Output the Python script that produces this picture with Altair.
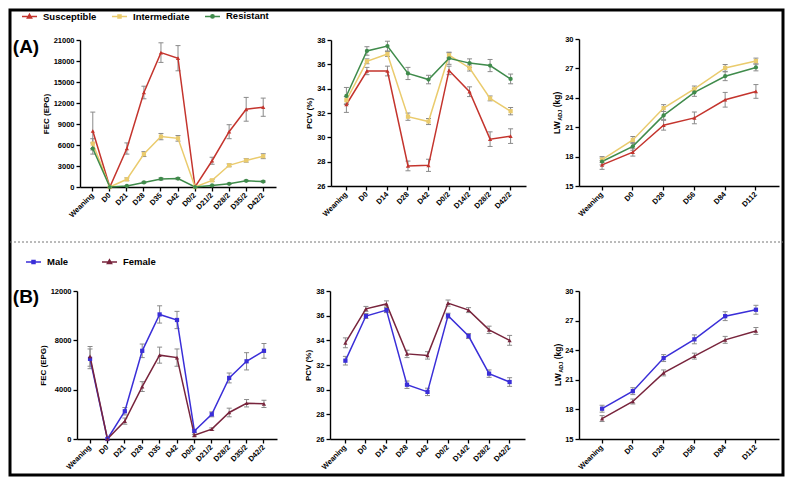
import altair as alt
import pandas as pd

# ---------------- data ----------------
FEC_CATS = ["Weaning", "D0", "D21", "D28", "D35", "D42", "D0/2", "D21/2", "D28/2", "D35/2", "D42/2"]
PCV_CATS = ["Weaning", "D0", "D14", "D28", "D42", "D0/2", "D14/2", "D28/2", "D42/2"]
LW_CATS = ["Weaning", "D0", "D28", "D56", "D84", "D112"]

GROUPS_A = ["Susceptible", "Intermediate", "Resistant"]
GROUPS_B = ["Male", "Female"]

FEC_S = [8000, 0, 5500, 13500, 19200, 18400, 0, 3750, 7900, 11100, 11400]
FEC_S_ERR = [2700, 0, 800, 900, 1400, 1800, 0, 500, 1000, 1700, 1300]
FEC_I = [6200, 0, 1100, 4700, 7200, 6950, 0, 950, 3100, 3800, 4400]
FEC_I_ERR = [700, 0, 200, 350, 450, 400, 0, 150, 200, 250, 350]
FEC_R = [5500, 0, 150, 650, 1150, 1200, 0, 220, 450, 880, 780]
FEC_R_ERR = [800, 0, 50, 100, 150, 150, 0, 50, 80, 100, 100]

PCV_S = [32.7, 35.45, 35.45, 27.65, 27.7, 35.5, 33.75, 29.85, 30.1]
PCV_S_ERR = [0.65, 0.3, 0.4, 0.4, 0.5, 0.35, 0.4, 0.6, 0.6]
PCV_I = [33.05, 36.25, 36.85, 31.7, 31.3, 36.75, 35.7, 33.2, 32.15]
PCV_I_ERR = [0.3, 0.2, 0.2, 0.3, 0.25, 0.2, 0.25, 0.2, 0.3]
PCV_R = [33.4, 37.1, 37.5, 35.25, 34.75, 36.5, 36.1, 35.9, 34.8]
PCV_R_ERR = [0.7, 0.35, 0.4, 0.5, 0.35, 0.5, 0.35, 0.5, 0.4]

LW_S = [17.15, 18.45, 21.2, 21.95, 23.8, 24.65]
LW_S_ERR = [0.45, 0.4, 0.5, 0.6, 0.75, 0.7]
LW_I = [17.7, 19.7, 22.95, 24.9, 27.05, 27.75]
LW_I_ERR = [0.3, 0.35, 0.35, 0.3, 0.35, 0.3]
LW_R = [17.5, 19.05, 22.2, 24.55, 26.2, 27.1]
LW_R_ERR = [0.35, 0.4, 0.4, 0.4, 0.45, 0.35]

FEC_M = [6500, 0, 2250, 7150, 10100, 9650, 650, 2000, 4950, 6300, 7150]
FEC_M_ERR = [800, 0, 300, 550, 700, 700, 100, 200, 400, 700, 600]
FEC_F = [6700, 0, 1450, 4250, 6800, 6600, 300, 800, 2150, 2900, 2850]
FEC_F_ERR = [800, 0, 250, 400, 650, 700, 80, 100, 350, 300, 300]

PCV_M = [32.35, 35.97, 36.45, 30.4, 29.82, 36.0, 34.35, 31.3, 30.62]
PCV_M_ERR = [0.35, 0.2, 0.2, 0.3, 0.3, 0.2, 0.2, 0.3, 0.35]
PCV_F = [33.8, 36.55, 36.95, 32.9, 32.78, 37.02, 36.45, 34.85, 34.0]
PCV_F_ERR = [0.4, 0.2, 0.25, 0.3, 0.3, 0.25, 0.2, 0.3, 0.4]

LW_M = [18.07, 19.85, 23.2, 25.1, 27.45, 28.1]
LW_M_ERR = [0.35, 0.35, 0.35, 0.45, 0.45, 0.45]
LW_F = [17.07, 18.8, 21.7, 23.4, 25.05, 25.95]
LW_F_ERR = [0.3, 0.25, 0.3, 0.3, 0.35, 0.35]

FEC_A_TICKS = [0, 3000, 6000, 9000, 12000, 15000, 18000, 21000]
FEC_B_TICKS = [0, 4000, 8000, 12000]
PCV_TICKS = [26, 28, 30, 32, 34, 36, 38]
LW_TICKS = [15, 18, 21, 24, 27, 30]

# ---------------- style ----------------
FONT = "Liberation Sans"
C_S, C_I, C_R = "#C4342D", "#EACB6D", "#3F8B4B"
C_M, C_F = "#3A2ED8", "#78243C"
GRAY = "#8a8a8a"

W, H = 773, 465          # view size; chart origin sits at screen (10, 10)
OFF = 10


def cx(s):
    return s - OFF


def cy(s):
    return s - OFF


def panel(cats, series, ydom, yticks, xr, yr, ytitle):
    xs = alt.Scale(domain=cats, range=[cx(xr[0]), cx(xr[1])], padding=0.5)
    ys = alt.Scale(domain=ydom, range=[cy(yr[0]), cy(yr[1])], zero=False, nice=False)
    xaxis = alt.Axis(orient="bottom", offset=cy(yr[0]) - H, labelAngle=-45,
                     labelAlign="right", labelBaseline="middle", labelOverlap=False,
                     title=None, labelPadding=3)
    yaxis = alt.Axis(orient="left", offset=-cx(xr[0]), values=yticks, format="d",
                     title=ytitle if ytitle else None, titlePadding=3)
    lines, bars, pts = [], [], []
    for name, m, e, col, shp in series:
        df = pd.DataFrame({"cat": cats, "mean": m, "err": e, "i": list(range(len(cats)))})
        df["lo"] = df["mean"] - df["err"]
        df["hi"] = df["mean"] + df["err"]
        base = alt.Chart(df).encode(x=alt.X("cat:N", scale=xs, axis=xaxis, sort=cats))
        lines.append(base.mark_line(color=col, strokeWidth=1.5).encode(
            y=alt.Y("mean:Q", scale=ys, axis=yaxis), order=alt.Order("i:Q")))
        eb = base.transform_filter("datum.err > 0")
        bars.append(eb.mark_rule(color=GRAY, strokeWidth=1).encode(
            y=alt.Y("lo:Q", scale=ys, axis=yaxis), y2="hi:Q"))
        bars.append(eb.mark_tick(color=GRAY, size=5, thickness=1, opacity=1).encode(
            y=alt.Y("lo:Q", scale=ys, axis=yaxis)))
        bars.append(eb.mark_tick(color=GRAY, size=5, thickness=1, opacity=1).encode(
            y=alt.Y("hi:Q", scale=ys, axis=yaxis)))
        pts.append(base.mark_point(filled=True, shape=shp, size=18, color=col, opacity=1).encode(
            y=alt.Y("mean:Q", scale=ys, axis=yaxis)))
    return alt.layer(*(bars + lines + pts))


P_TRI = "M-1,0H1M0,-0.3L0.28,0.2H-0.28Z"
P_SQ = "M-1,0H1M-0.2,-0.2H0.2V0.2H-0.2Z"
P_CIR = "M-1,0H1M0.22,0A0.22,0.22 0 1,1 -0.22,0A0.22,0.22 0 1,1 0.22,0Z"


def legend_layer(names, colors, paths, lx, ly, colpad):
    df = pd.DataFrame({"series": names})
    leg = alt.Legend(title=None, orient="none", legendX=lx, legendY=ly, direction="horizontal",
                     symbolSize=225, symbolStrokeWidth=1.5, labelFont=FONT, labelFontSize=9.5,
                     labelFontWeight="bold", labelColor="black", labelOffset=5,
                     columnPadding=colpad, padding=0)
    return alt.Chart(df).transform_filter("false").mark_point(filled=True, opacity=1).encode(
        fill=alt.Fill("series:N", scale=alt.Scale(domain=names, range=colors), legend=leg),
        stroke=alt.Stroke("series:N", scale=alt.Scale(domain=names, range=colors), legend=leg),
        shape=alt.Shape("series:N", scale=alt.Scale(domain=names, range=paths), legend=leg),
    )


A1 = panel(FEC_CATS, [("Susceptible", FEC_S, FEC_S_ERR, C_S, "triangle-up"),
                      ("Intermediate", FEC_I, FEC_I_ERR, C_I, "square"),
                      ("Resistant", FEC_R, FEC_R_ERR, C_R, "circle")],
           [0, 21000], FEC_A_TICKS, (80, 276), (187, 40), "FEC (EPG)")
A2 = panel(PCV_CATS, [("Susceptible", PCV_S, PCV_S_ERR, C_S, "triangle-up"),
                      ("Intermediate", PCV_I, PCV_I_ERR, C_I, "square"),
                      ("Resistant", PCV_R, PCV_R_ERR, C_R, "circle")],
           [26, 38], PCV_TICKS, (331, 526), (186, 40), "PCV (%)")
A3 = panel(LW_CATS, [("Susceptible", LW_S, LW_S_ERR, C_S, "triangle-up"),
                     ("Intermediate", LW_I, LW_I_ERR, C_I, "square"),
                     ("Resistant", LW_R, LW_R_ERR, C_R, "circle")],
           [15, 30], LW_TICKS, (579, 779), (186, 39), None)
B1 = panel(FEC_CATS, [("Male", FEC_M, FEC_M_ERR, C_M, "square"),
                      ("Female", FEC_F, FEC_F_ERR, C_F, "triangle-up")],
           [0, 12000], FEC_B_TICKS, (77, 277), (439, 291), "FEC (EPG)")
B2 = panel(PCV_CATS, [("Male", PCV_M, PCV_M_ERR, C_M, "square"),
                      ("Female", PCV_F, PCV_F_ERR, C_F, "triangle-up")],
           [26, 38], PCV_TICKS, (330, 525), (439, 291), "PCV (%)")
B3 = panel(LW_CATS, [("Male", LW_M, LW_M_ERR, C_M, "square"),
                     ("Female", LW_F, LW_F_ERR, C_F, "triangle-up")],
           [15, 30], LW_TICKS, (579, 779), (439, 291), None)

legA = legend_layer(GROUPS_A, [C_S, C_I, C_R], [P_TRI, P_SQ, P_CIR], cx(21), cy(7.5), 12)
legB = legend_layer(GROUPS_B, [C_M, C_F], [P_SQ, P_TRI], cx(25), cy(253.5), 30)

ind = dict(x="independent", y="independent")
groupA = alt.layer(A1, A2, A3, legA).resolve_scale(**ind)
groupB = alt.layer(B1, B2, B3, legB).resolve_scale(**ind)

one = pd.DataFrame({"k": [0]})
sep = alt.Chart(one).mark_rule(color="#777777", strokeDash=[2, 2], strokeWidth=1).encode(
    x=alt.value(0), x2=alt.value(W), y=alt.value(cy(242)))


def label(txt, x, y, size=19, angle=0, align="center"):
    return alt.Chart(one).mark_text(text=txt, font=FONT, fontSize=size, fontWeight="bold",
                                    align=align, baseline="middle", angle=angle,
                                    color="black").encode(x=alt.value(x), y=alt.value(y))


labA = label("(A)", cx(26), cy(46.5))
labB = label("(B)", cx(26), cy(296.5))


def lw_title(xc, ystart):
    fs, fsub = 8.5, 5.5
    w_lw = 1.555 * fs
    w_adj = 2.0 * fsub
    return [
        label("LW", xc, ystart, size=fs, angle=270, align="left"),
        label("ADJ", xc + 2.5, ystart - w_lw, size=fsub, angle=270, align="left"),
        label("(kg)", xc, ystart - w_lw - w_adj - 2.5, size=fs, angle=270, align="left"),
    ]


titles = lw_title(cx(557), cy(134)) + lw_title(cx(558), cy(386))

chart = alt.layer(groupA, groupB, sep, labA, labB, *titles).resolve_scale(
    x="independent", y="independent", fill="independent", stroke="independent",
    shape="independent"
).properties(
    width=W, height=H, padding=2, autosize=alt.AutoSizeParams(type="none"), background="white"
).configure_view(
    stroke="black", strokeWidth=3
).configure_axis(
    domainColor="black", domainWidth=1.4, tickColor="black", tickWidth=1.3, tickSize=4,
    labelFont=FONT, labelFontSize=7.5, labelFontWeight="bold", labelColor="black",
    titleFont=FONT, titleFontSize=8, titleFontWeight="bold", titleColor="black", grid=False
)

chart.save("out.html", embed_options={"renderer": "svg", "actions": False})
